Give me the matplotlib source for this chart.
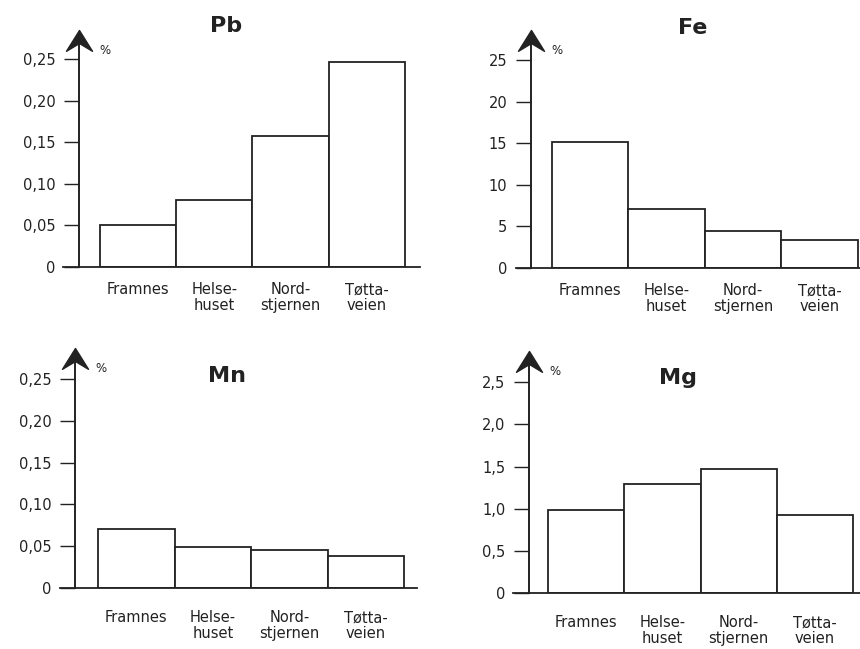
import matplotlib
matplotlib.use("Agg")
import matplotlib.pyplot as plt
from matplotlib.path import Path

plt.rcParams["font.family"] = ["DejaVu Sans"]

# --- data -------------------------------------------------------------
sites = ["Framnes", "Helse-\nhuset", "Nord-\nstjernen", "Tøtta-\nveien"]

elements = ["Pb", "Fe", "Mn", "Mg"]
pb_values = [0.050, 0.081, 0.158, 0.247]
fe_values = [15.2, 7.1, 4.5, 3.4]
mn_values = [0.070, 0.049, 0.046, 0.038]
mg_values = [0.98, 1.29, 1.47, 0.92]

small_ticks = [0, 0.05, 0.10, 0.15, 0.20, 0.25]
small_labels = ["0", "0,05", "0,10", "0,15", "0,20", "0,25"]
fe_ticks = [0, 5, 10, 15, 20, 25]
fe_labels = ["0", "5", "10", "15", "20", "25"]
mg_ticks = [0, 0.5, 1.0, 1.5, 2.0, 2.5]
mg_labels = ["0", "0,5", "1,0", "1,5", "2,0", "2,5"]

values = [pb_values, fe_values, mn_values, mg_values]
ticks = [small_ticks, fe_ticks, small_ticks, mg_ticks]
tick_labels = [small_labels, fe_labels, small_labels, mg_labels]

# --- layout (pixels in an 860x649 canvas) -----------------------------
W, H = 860, 649
# left, right, y of zero line, y of arrow tip
boxes = [(63, 420, 267, 30), (516, 860, 268, 30),
         (60, 417, 588, 348), (513, 860, 593, 351)]
ytops = [0.285, 28.6, 0.287, 2.87]
xlims = [(-0.985, 3.70), (-0.97, 3.53), (-0.997, 3.67), (-0.96, 3.59)]
axis_x = [-0.775, -0.775, -0.80, -0.75]
title_pos = [(226, 26), (693, 28), (227, 376), (678, 378)]
label_pad = [11, 11, 16, 16]

# chevron arrow head, tip at the origin
chevron = Path([(0, 0), (-0.5, -0.8), (0, -0.5), (0.5, -0.8), (0, 0)],
               [Path.MOVETO, Path.LINETO, Path.LINETO, Path.LINETO, Path.CLOSEPOLY])

ink = "#222222"

fig = plt.figure(figsize=(W / 100, H / 100), dpi=100)
fig.patch.set_facecolor("white")

for i, name in enumerate(elements):
    left, right, y0, ytop_px = boxes[i]
    ax = fig.add_axes([left / W, 1 - y0 / H, (right - left) / W, (y0 - ytop_px) / H])
    ax.set_facecolor("none")

    x = range(len(sites))
    ax.bar(x, values[i], width=1.0, color="white", edgecolor=ink,
           linewidth=1.3, zorder=2)

    ax.set_xlim(*xlims[i])
    ax.set_ylim(0, ytops[i])

    for side in ["top", "right"]:
        ax.spines[side].set_visible(False)
    ax.spines["bottom"].set_linewidth(1.3)
    ax.spines["bottom"].set_color(ink)
    ax.spines["left"].set_position(("data", axis_x[i]))
    ax.spines["left"].set_bounds(0, ytops[i] * 0.97)
    ax.spines["left"].set_linewidth(1.4)
    ax.spines["left"].set_color(ink)

    ax.set_yticks(ticks[i])
    ax.set_yticklabels(tick_labels[i])
    ax.tick_params(axis="y", direction="out", length=11, width=1.0,
                   pad=6, labelsize=10.5, colors=ink)

    ax.set_xticks(list(x))
    ax.set_xticklabels(sites, fontsize=10.5, color=ink, linespacing=1.1)
    ax.tick_params(axis="x", length=0, pad=label_pad[i])

    ax.plot([axis_x[i]], [ytops[i]], marker=chevron, markersize=30,
            color=ink, linestyle="none", clip_on=False, zorder=5)
    ax.annotate("%", xy=(axis_x[i], ytops[i]), xytext=(20, -20),
                textcoords="offset pixels", fontsize=8.5, color=ink,
                ha="left", va="center", annotation_clip=False)

    tx, ty = title_pos[i]
    fig.text(tx / W, 1 - ty / H, name, fontsize=16, fontweight="bold",
             ha="center", va="center", color=ink)

fig.savefig("out.png", dpi=100, facecolor="white")
